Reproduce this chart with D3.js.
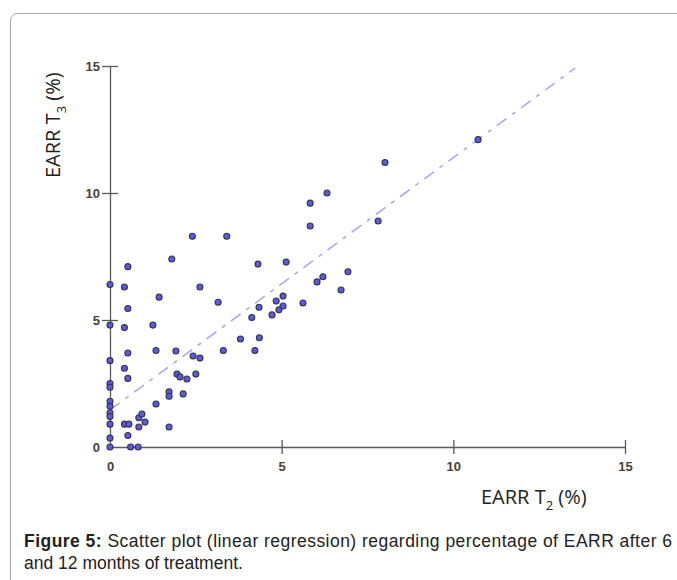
<!DOCTYPE html>
<html>
<head>
<meta charset="utf-8">
<script src="https://cdn.jsdelivr.net/npm/d3@7"></script>
<style>
  body { margin: 0; background: #fff; }
  svg { display: block; }
</style>
</head>
<body>
<div class="chart"></div>
<script>
var svgWidth = 677;
var svgHeight = 580;

// EARR T2 (%) values
var t2Values = [
  0, 0, 0, 0, 0, 0, 0, 0, 0, 0, 0, 0,
  0.42, 0.42, 0.42, 0.42,
  0.52, 0.52, 0.52, 0.52, 0.55, 0.52,
  0.6, 0.82, 0.84, 0.93, 1.02, 0.84,
  1.72, 1.34, 1.72, 1.72, 2.13, 1.95, 2.04, 2.24, 2.5, 2.42, 2.62,
  1.8, 2.4, 3.4, 1.43, 3.15, 2.62, 1.25, 1.34, 1.92,
  3.8, 4.35, 3.3, 4.22,
  4.13, 4.34, 4.72, 4.92, 5.04, 5.04, 4.84, 5.62, 4.31, 5.13,
  5.83, 5.83, 6.32, 8.01, 7.81, 10.72, 6.93, 6.2, 6.03, 6.73
];

// EARR T3 (%) values
var t3Values = [
  6.4, 4.8, 3.4, 2.5, 2.35, 1.8, 1.6, 1.35, 1.2, 0.9, 0.35, 0,
  6.3, 4.7, 3.1, 0.9,
  7.1, 5.45, 3.7, 2.7, 0.9, 0.45,
  0, 0, 1.15, 1.3, 0.98, 0.79,
  0.79, 1.69, 2.17, 2.0, 2.09, 2.87, 2.76, 2.68, 2.87, 3.58, 3.5,
  7.4, 8.3, 8.3, 5.9, 5.7, 6.3, 4.8, 3.8, 3.78,
  4.25, 4.3, 3.8, 3.8,
  5.1, 5.5, 5.2, 5.4, 5.55, 5.94, 5.75, 5.67, 7.2, 7.28,
  9.6, 8.7, 10.0, 11.2, 8.9, 12.1, 6.9, 6.7, 6.5, 6.18
];

// regression line (x start/end, y start/end)
var lineX = [0, 13.55];
var lineY = [1.46, 14.92];

var tickValues = [0, 5, 10, 15];

var pts = t2Values.map(function(d, i) { return { x: d, y: t3Values[i] }; });

var svg = d3.select(".chart").append("svg")
  .attr("width", svgWidth)
  .attr("height", svgHeight);

// frame of the figure box
svg.append("path")
  .attr("d", "M10.5,590 L10.5,21 Q10.5,13.5 18,13.5 L690,13.5")
  .attr("fill", "none")
  .attr("stroke", "#a8a8a8")
  .attr("stroke-width", 1);

var xScale = d3.scaleLinear().domain([0, 15]).range([110, 625]);
var yScale = d3.scaleLinear().domain([0, 15]).range([447, 66]);

var axisColor = "#5a5a5a";
var tickColor = "#4a4038";

function styleTicks(sel) {
  sel.selectAll("text")
    .attr("fill", tickColor)
    .style("font-family", "Liberation Sans, Arial, sans-serif")
    .style("font-size", "13px")
    .style("font-weight", "bold");
}

// x axis
var xAxis = svg.append("g")
  .attr("transform", "translate(0,447)")
  .call(d3.axisBottom(xScale).tickValues(tickValues).tickSize(0).tickPadding(15));
xAxis.select(".domain").attr("stroke", axisColor).attr("stroke-width", 1.3);
xAxis.selectAll(".tick line").remove();
xAxis.selectAll(".tick").filter(function(d) { return d > 0; })
  .append("line")
  .attr("y1", -7).attr("y2", 7)
  .attr("stroke", axisColor).attr("stroke-width", 1.3);
styleTicks(xAxis);

// y axis
var yAxis = svg.append("g")
  .attr("transform", "translate(110,0)")
  .call(d3.axisLeft(yScale).tickValues(tickValues).tickSize(0).tickPadding(10));
yAxis.select(".domain").attr("stroke", axisColor).attr("stroke-width", 1.3);
yAxis.selectAll(".tick line").remove();
yAxis.selectAll(".tick").filter(function(d) { return d > 0; })
  .append("line")
  .attr("x1", -8).attr("x2", 8)
  .attr("stroke", axisColor).attr("stroke-width", 1.3);
styleTicks(yAxis);

// regression line
svg.append("line")
  .attr("x1", xScale(lineX[0])).attr("y1", yScale(lineY[0]))
  .attr("x2", xScale(lineX[1])).attr("y2", yScale(lineY[1]))
  .attr("stroke", "#a9a9f2")
  .attr("stroke-width", 1.6)
  .attr("stroke-dasharray", "12,7,4,7");

// points
svg.append("g").selectAll("circle")
  .data(pts)
  .enter()
  .append("circle")
  .attr("cx", d => xScale(d.x))
  .attr("cy", d => yScale(d.y))
  .attr("r", 3)
  .attr("fill", "#5a5ae0")
  .attr("stroke", "#35354a")
  .attr("stroke-width", 1.1);

// axis titles
function axisTitle(g, sub) {
  g.attr("fill", "#222")
    .style("font-family", "Open Sans, sans-serif")
    .style("font-size", "20px");
  g.append("tspan").text("EARR T");
  g.append("tspan").attr("dy", 6).style("font-size", "13px").text(sub);
  g.append("tspan").attr("dy", -6).text(" (%)");
}

axisTitle(svg.append("text").attr("x", 481).attr("y", 504), "2");
axisTitle(svg.append("text").attr("transform", "translate(60,178) rotate(-90)"), "3");

// caption
var cap1 = svg.append("text")
  .attr("x", 24)
  .attr("y", 547)
  .attr("fill", "#222")
  .attr("textLength", 648)
  .style("font-family", "Liberation Sans, Arial, sans-serif")
  .style("font-size", "17.5px");
cap1.append("tspan").style("font-weight", "bold").text("Figure 5:");
cap1.append("tspan").text(" Scatter plot (linear regression) regarding percentage of EARR after 6");

svg.append("text")
  .attr("x", 24)
  .attr("y", 569)
  .attr("fill", "#222")
  .style("font-family", "Liberation Sans, Arial, sans-serif")
  .style("font-size", "17.5px")
  .text("and 12 months of treatment.");
</script>
</body>
</html>
